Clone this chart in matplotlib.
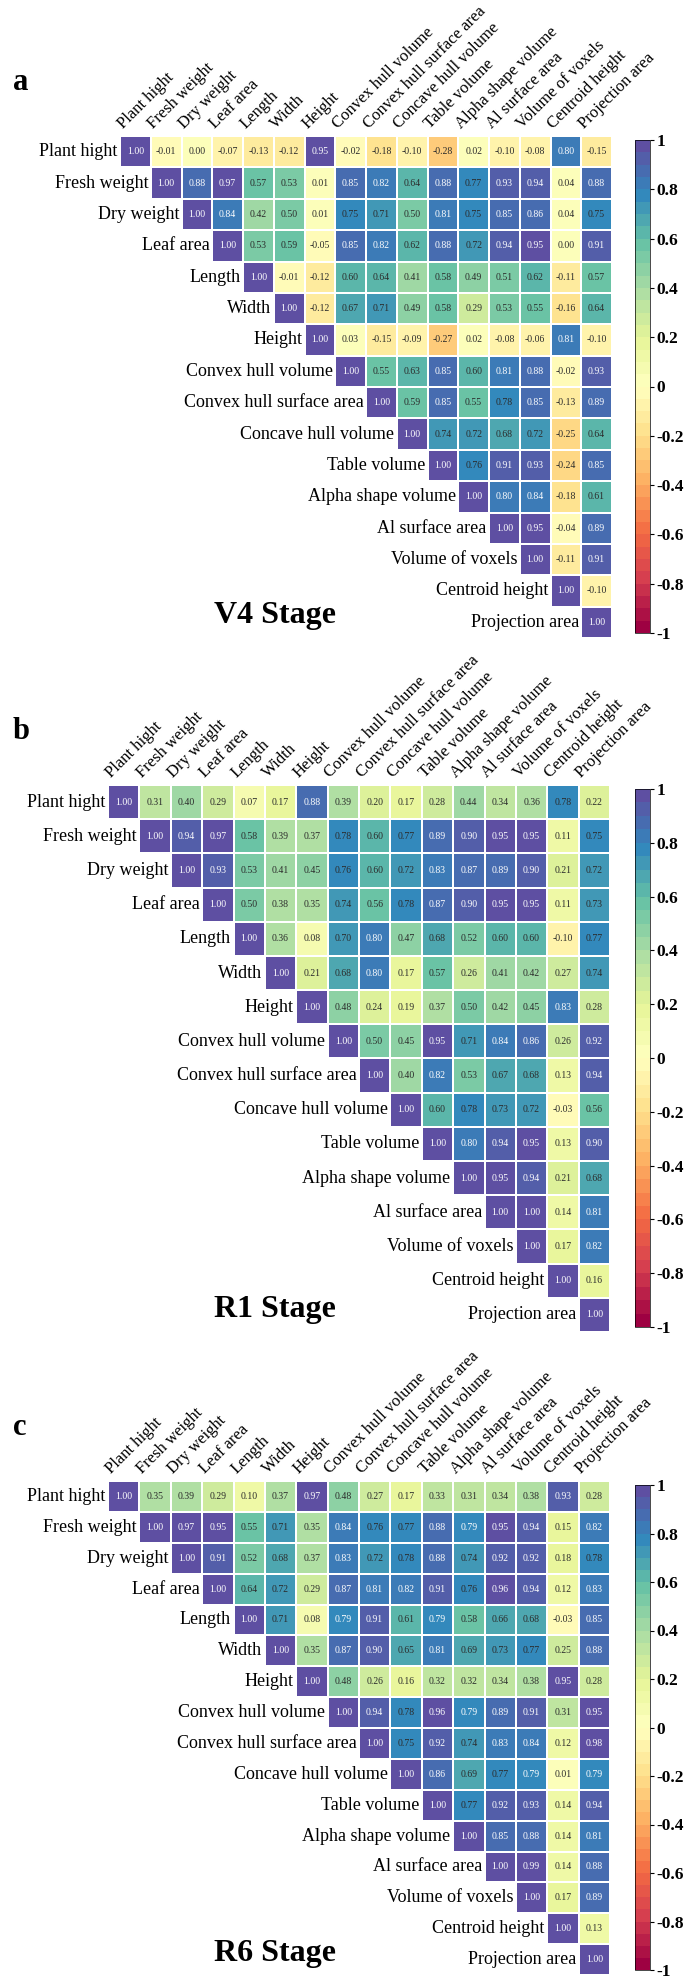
import numpy as np
import matplotlib
matplotlib.use('Agg')
import matplotlib.pyplot as plt
from matplotlib.colors import Normalize
from matplotlib.cm import ScalarMappable

plt.rcParams['font.family'] = ['Liberation Serif', 'DejaVu Serif']

labels = ['Plant hight', 'Fresh weight', 'Dry weight', 'Leaf area', 'Length', 'Width',
          'Height', 'Convex hull volume', 'Convex hull surface area', 'Concave hull volume',
          'Table volume', 'Alpha shape volume', 'Al surface area', 'Volume of voxels',
          'Centroid height', 'Projection area']

# upper triangle, one list per row starting at the diagonal
v4_rows = [
    [1.00, -0.01, 0.00, -0.07, -0.13, -0.12, 0.95, -0.02, -0.18, -0.10, -0.28, 0.02, -0.10, -0.08, 0.80, -0.15],
    [1.00, 0.88, 0.97, 0.57, 0.53, 0.01, 0.85, 0.82, 0.64, 0.88, 0.77, 0.93, 0.94, 0.04, 0.88],
    [1.00, 0.84, 0.42, 0.50, 0.01, 0.75, 0.71, 0.50, 0.81, 0.75, 0.85, 0.86, 0.04, 0.75],
    [1.00, 0.53, 0.59, -0.05, 0.85, 0.82, 0.62, 0.88, 0.72, 0.94, 0.95, 0.00, 0.91],
    [1.00, -0.01, -0.12, 0.60, 0.64, 0.41, 0.58, 0.49, 0.51, 0.62, -0.11, 0.57],
    [1.00, -0.12, 0.67, 0.71, 0.49, 0.58, 0.29, 0.53, 0.55, -0.16, 0.64],
    [1.00, 0.03, -0.15, -0.09, -0.27, 0.02, -0.08, -0.06, 0.81, -0.10],
    [1.00, 0.55, 0.63, 0.85, 0.60, 0.81, 0.88, -0.02, 0.93],
    [1.00, 0.59, 0.85, 0.55, 0.78, 0.85, -0.13, 0.89],
    [1.00, 0.74, 0.72, 0.68, 0.72, -0.25, 0.64],
    [1.00, 0.76, 0.91, 0.93, -0.24, 0.85],
    [1.00, 0.80, 0.84, -0.18, 0.61],
    [1.00, 0.95, -0.04, 0.89],
    [1.00, -0.11, 0.91],
    [1.00, -0.10],
    [1.00],
]

r1_rows = [
    [1.00, 0.31, 0.40, 0.29, 0.07, 0.17, 0.88, 0.39, 0.20, 0.17, 0.28, 0.44, 0.34, 0.36, 0.78, 0.22],
    [1.00, 0.94, 0.97, 0.58, 0.39, 0.37, 0.78, 0.60, 0.77, 0.89, 0.90, 0.95, 0.95, 0.11, 0.75],
    [1.00, 0.93, 0.53, 0.41, 0.45, 0.76, 0.60, 0.72, 0.83, 0.87, 0.89, 0.90, 0.21, 0.72],
    [1.00, 0.50, 0.38, 0.35, 0.74, 0.56, 0.78, 0.87, 0.90, 0.95, 0.95, 0.11, 0.73],
    [1.00, 0.36, 0.08, 0.70, 0.80, 0.47, 0.68, 0.52, 0.60, 0.60, -0.10, 0.77],
    [1.00, 0.21, 0.68, 0.80, 0.17, 0.57, 0.26, 0.41, 0.42, 0.27, 0.74],
    [1.00, 0.48, 0.24, 0.19, 0.37, 0.50, 0.42, 0.45, 0.83, 0.28],
    [1.00, 0.50, 0.45, 0.95, 0.71, 0.84, 0.86, 0.26, 0.92],
    [1.00, 0.40, 0.82, 0.53, 0.67, 0.68, 0.13, 0.94],
    [1.00, 0.60, 0.78, 0.73, 0.72, -0.03, 0.56],
    [1.00, 0.80, 0.94, 0.95, 0.13, 0.90],
    [1.00, 0.95, 0.94, 0.21, 0.68],
    [1.00, 1.00, 0.14, 0.81],
    [1.00, 0.17, 0.82],
    [1.00, 0.16],
    [1.00],
]

r6_rows = [
    [1.00, 0.35, 0.39, 0.29, 0.10, 0.37, 0.97, 0.48, 0.27, 0.17, 0.33, 0.31, 0.34, 0.38, 0.93, 0.28],
    [1.00, 0.97, 0.95, 0.55, 0.71, 0.35, 0.84, 0.76, 0.77, 0.88, 0.79, 0.95, 0.94, 0.15, 0.82],
    [1.00, 0.91, 0.52, 0.68, 0.37, 0.83, 0.72, 0.78, 0.88, 0.74, 0.92, 0.92, 0.18, 0.78],
    [1.00, 0.64, 0.72, 0.29, 0.87, 0.81, 0.82, 0.91, 0.76, 0.96, 0.94, 0.12, 0.83],
    [1.00, 0.71, 0.08, 0.79, 0.91, 0.61, 0.79, 0.58, 0.66, 0.68, -0.03, 0.85],
    [1.00, 0.35, 0.87, 0.90, 0.65, 0.81, 0.69, 0.73, 0.77, 0.25, 0.88],
    [1.00, 0.48, 0.26, 0.16, 0.32, 0.32, 0.34, 0.38, 0.95, 0.28],
    [1.00, 0.94, 0.78, 0.96, 0.79, 0.89, 0.91, 0.31, 0.95],
    [1.00, 0.75, 0.92, 0.74, 0.83, 0.84, 0.12, 0.98],
    [1.00, 0.86, 0.69, 0.77, 0.79, 0.01, 0.79],
    [1.00, 0.77, 0.92, 0.93, 0.14, 0.94],
    [1.00, 0.85, 0.88, 0.14, 0.81],
    [1.00, 0.99, 0.14, 0.88],
    [1.00, 0.17, 0.89],
    [1.00, 0.13],
    [1.00],
]

stages = ['V4 Stage', 'R1 Stage', 'R6 Stage']
letters = ['a', 'b', 'c']

W, H = 685, 1979
# pixel boxes (x0, y0, x1, y1) of each heatmap
boxes = [(120, 136, 612, 638), (108, 785, 610, 1332), (108, 1481, 610, 1975)]

cmap = plt.get_cmap('Spectral', 40)
norm = Normalize(-1, 1)


def build(rows):
    n = len(rows)
    m = np.full((n, n), np.nan)
    for i, r in enumerate(rows):
        m[i, i:] = r
    return m


def frac(x0, y0, x1, y1):
    return [x0 / W, 1 - y1 / H, (x1 - x0) / W, (y1 - y0) / H]


fig = plt.figure(figsize=(W / 100, H / 100), dpi=100)

for k, rows in enumerate([v4_rows, r1_rows, r6_rows]):
    mat = build(rows)
    n = mat.shape[0]
    x0, y0, x1, y1 = boxes[k]
    ax = fig.add_axes(frac(x0, y0, x1, y1))
    ax.pcolormesh(np.arange(n + 1), np.arange(n + 1), np.ma.masked_invalid(mat),
                  cmap=cmap, norm=norm, edgecolors='white', linewidth=1.2)
    ax.set_xlim(0, n)
    ax.set_ylim(n, 0)
    ax.axis('off')

    for i in range(n):
        for j in range(i, n):
            v = mat[i, j]
            col = 'white' if v >= 0.785 else '#2b2b2b'
            ax.text(j + 0.5, i + 0.5, f'{v:.2f}', ha='center', va='center',
                    fontsize=7, color=col)
        # row label next to the diagonal cell
        ax.text(i - 0.08, i + 0.5, labels[i], ha='right', va='center', fontsize=13)
        # column label above the top row
        ax.text(i + 0.18, -0.12, labels[i], rotation=45, rotation_mode='anchor',
                ha='left', va='bottom', fontsize=12)

    # colorbar
    cax = fig.add_axes(frac(635, y0 + 4, 650, y1 - 5))
    ticks = np.round(np.arange(-1, 1.01, 0.2), 1)
    cb = fig.colorbar(ScalarMappable(norm=norm, cmap=cmap), cax=cax, ticks=ticks)
    tl = []
    for t in ticks:
        if abs(t) < 1e-9:
            tl.append('0')
        elif abs(abs(t) - 1) < 1e-9:
            tl.append('%d' % t)
        else:
            tl.append('%.1f' % t)
    cb.ax.set_yticklabels(tl, fontsize=12.5, fontweight='bold')
    cb.ax.tick_params(length=3, width=0.8, pad=1.5)
    cb.outline.set_linewidth(0.5)

    fig.text(13 / W, 1 - (y0 - 46) / H, letters[k], fontsize=22, fontweight='bold',
             va='baseline')
    fig.text(275 / W, 1 - (y1 - 22) / H, stages[k], fontsize=23, fontweight='bold',
             ha='center', va='center')

fig.savefig('out.png', dpi=100)
